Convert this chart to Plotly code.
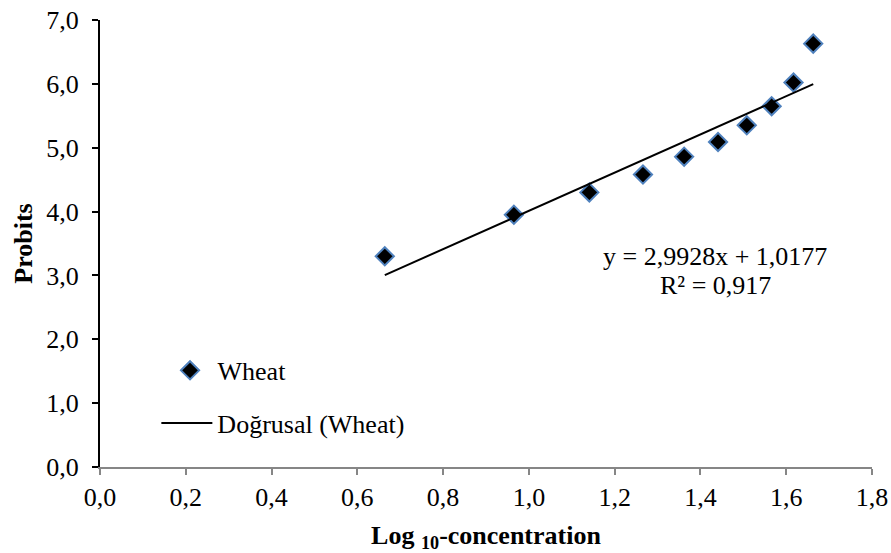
import numpy as np
import plotly.graph_objects as go

# Data
log_conc = [0.664, 0.965, 1.141, 1.266, 1.362, 1.441, 1.508, 1.566, 1.617, 1.663]
probits = [3.30, 3.95, 4.30, 4.58, 4.86, 5.09, 5.35, 5.65, 6.02, 6.63]
slope = 2.9928
intercept = 1.0177
r2_text = "0,917"
x_ticks = [0.0, 0.2, 0.4, 0.6, 0.8, 1.0, 1.2, 1.4, 1.6, 1.8]
y_ticks = [0.0, 1.0, 2.0, 3.0, 4.0, 5.0, 6.0, 7.0]

def comma(v):
    return f"{v:.1f}".replace(".", ",")

font_family = "Liberation Serif"
fs = 26

trend_x = [min(log_conc), max(log_conc)]
trend_y = [slope * v + intercept for v in trend_x]

fig = go.Figure()
fig.add_trace(go.Scatter(
    x=log_conc, y=probits, mode="markers", name="Wheat",
    marker=dict(symbol="diamond", size=14, color="black",
                line=dict(color="#4F81BD", width=2)),
    legend="legend",
))
fig.add_trace(go.Scatter(
    x=trend_x, y=trend_y, mode="lines", name="Doğrusal (Wheat)",
    line=dict(color="black", width=2),
    legend="legend2",
))

fig.add_annotation(x=1.435, y=3.30, xref="x", yref="y",
                   text=f"y = {str(slope).replace('.', ',')}x + {str(intercept).replace('.', ',')}",
                   showarrow=False, font=dict(size=fs, color="black", family=font_family))
fig.add_annotation(x=1.435, y=2.85, xref="x", yref="y",
                   text=f"R² = {r2_text}",
                   showarrow=False, font=dict(size=fs, color="black", family=font_family))

fig.update_layout(
    width=891, height=553,
    margin=dict(l=100, r=19, t=20, b=86, autoexpand=False),
    plot_bgcolor="white", paper_bgcolor="white",
    font=dict(family=font_family, size=fs, color="black"),
    showlegend=True,
    legend=dict(xref="paper", yref="paper", x=0.081, y=0.216,
                xanchor="left", yanchor="middle", bgcolor="rgba(0,0,0,0)",
                itemwidth=45,
                font=dict(size=fs, family=font_family)),
    legend2=dict(xref="paper", yref="paper", x=0.073, y=0.098,
                 xanchor="left", yanchor="middle", bgcolor="rgba(0,0,0,0)",
                 itemwidth=51,
                 font=dict(size=fs, family=font_family)),
    xaxis=dict(
        range=[0, 1.8], tickvals=x_ticks, ticktext=[comma(v) for v in x_ticks],
        showgrid=False, zeroline=False, showline=True, linecolor="#868686", linewidth=2,
        ticks="outside", tickcolor="#868686", ticklen=6, tickwidth=2,
        tickfont=dict(size=fs, family=font_family),
        title=dict(text="<b>Log <sub>10</sub>-concentration</b>", standoff=22,
                   font=dict(size=fs, family=font_family)),
    ),
    yaxis=dict(
        range=[0, 7], tickvals=y_ticks, ticktext=[comma(v) for v in y_ticks],
        showgrid=False, zeroline=False, showline=True, linecolor="black", linewidth=2,
        ticks="outside", tickcolor="black", ticklen=6, tickwidth=2,
        ticklabelstandoff=8,
        tickfont=dict(size=fs, family=font_family),
        title=dict(text="<b>Probits</b>", standoff=6,
                   font=dict(size=fs, family=font_family)),
    ),
)

fig.write_html("out.html")
